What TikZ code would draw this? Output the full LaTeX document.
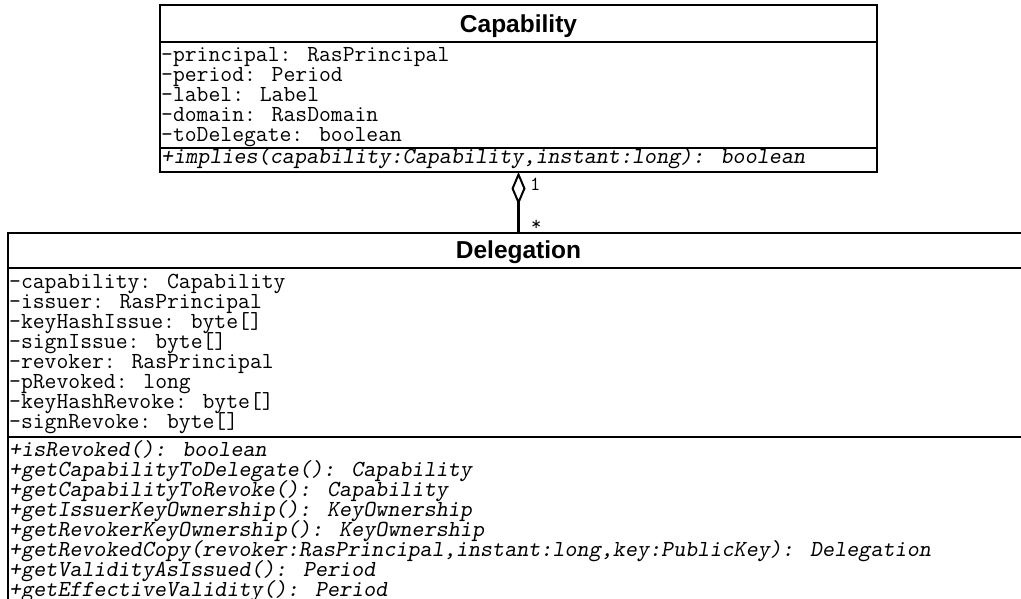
\documentclass[tikz,border=0pt]{standalone}
\usepackage{fontspec}
\newfontfamily\umlsans{Liberation Sans}
\usetikzlibrary{arrows.meta}

\tikzset{
  umlbox/.style={draw, rectangle, line width=2.6pt, inner sep=0pt, outer sep=0pt, anchor=north west},
  umlsep/.style={line width=2.6pt},
  umltitle/.style={anchor=base, inner sep=0pt, font=\umlsans\bfseries\fontsize{24.5}{24.5}\selectfont},
  umlattr/.style={anchor=base west, inner sep=0pt, font=\ttfamily\fontsize{23}{23}\selectfont},
  umlop/.style={anchor=base west, inner sep=0pt, font=\ttfamily\slshape\fontsize{23}{23}\selectfont},
  umlmult/.style={anchor=base west, inner sep=0pt, font=\ttfamily\fontsize{20}{20}\selectfont},
  aggregation/.style={line width=2.6pt, -{Diamond[open, length=33pt, width=14pt, line width=2pt]}}
}

\begin{document}
\begin{tikzpicture}[x=1pt, y=-1pt]
  \useasboundingbox (0,0) rectangle (1021,598);
  \clip (0,0) rectangle (1021,598);

  % Capability class
  \node[umlbox, minimum width=717pt, minimum height=167pt] (cap) at (160,5) {};
  \draw[umlsep] ([yshift=-37pt]cap.north west) -- ([yshift=-37pt]cap.north east);
  \draw[umlsep] ([yshift=-143pt]cap.north west) -- ([yshift=-143pt]cap.north east);
  \node[umltitle] (capname) at ([yshift=-27pt]cap.north) {Capability};
  \foreach \txt [count=\i] in {
      {-principal: RasPrincipal},
      {-period: Period},
      {-label: Label},
      {-domain: RasDomain},
      {-toDelegate: boolean}}
    \node[umlattr] (capattr\i) at (161, {41+20*\i}) {\txt};
  \node[umlop] (capop1) at (161,163) {+implies(capability:Capability,instant:long): boolean};

  % Delegation class
  \node[umlbox, minimum width=1021pt, minimum height=400pt] (del) at (8,233) {};
  \draw[umlsep] ([yshift=-35pt]del.north west) -- ([yshift=-35pt]del.north east);
  \draw[umlsep] ([yshift=-204pt]del.north west) -- ([yshift=-204pt]del.north east);
  \node[umltitle] (delname) at ([yshift=-25pt]del.north) {Delegation};
  \foreach \txt [count=\i] in {
      {-capability: Capability},
      {-issuer: RasPrincipal},
      {-keyHashIssue: byte[]},
      {-signIssue: byte[]},
      {-revoker: RasPrincipal},
      {-pRevoked: long},
      {-keyHashRevoke: byte[]},
      {-signRevoke: byte[]}}
    \node[umlattr] (delattr\i) at (9, {268+20*\i}) {\txt};
  \foreach \txt [count=\i] in {
      {+isRevoked(): boolean},
      {+getCapabilityToDelegate(): Capability},
      {+getCapabilityToRevoke(): Capability},
      {+getIssuerKeyOwnership(): KeyOwnership},
      {+getRevokerKeyOwnership(): KeyOwnership},
      {+getRevokedCopy(revoker:RasPrincipal,instant:long,key:PublicKey): Delegation},
      {+getValidityAsIssued(): Period},
      {+getEffectiveValidity(): Period}}
    \node[umlop] (delop\i) at (9, {436+20*\i}) {\txt};

  % Aggregation: Delegation * -- 1 Capability
  \draw[aggregation] (del.north) -- (cap.south);
  \node[umlmult] (multcap) at (530,190) {1};
  \node[umlmult] (multdel) at (531,230) {*};
\end{tikzpicture}
\end{document}
